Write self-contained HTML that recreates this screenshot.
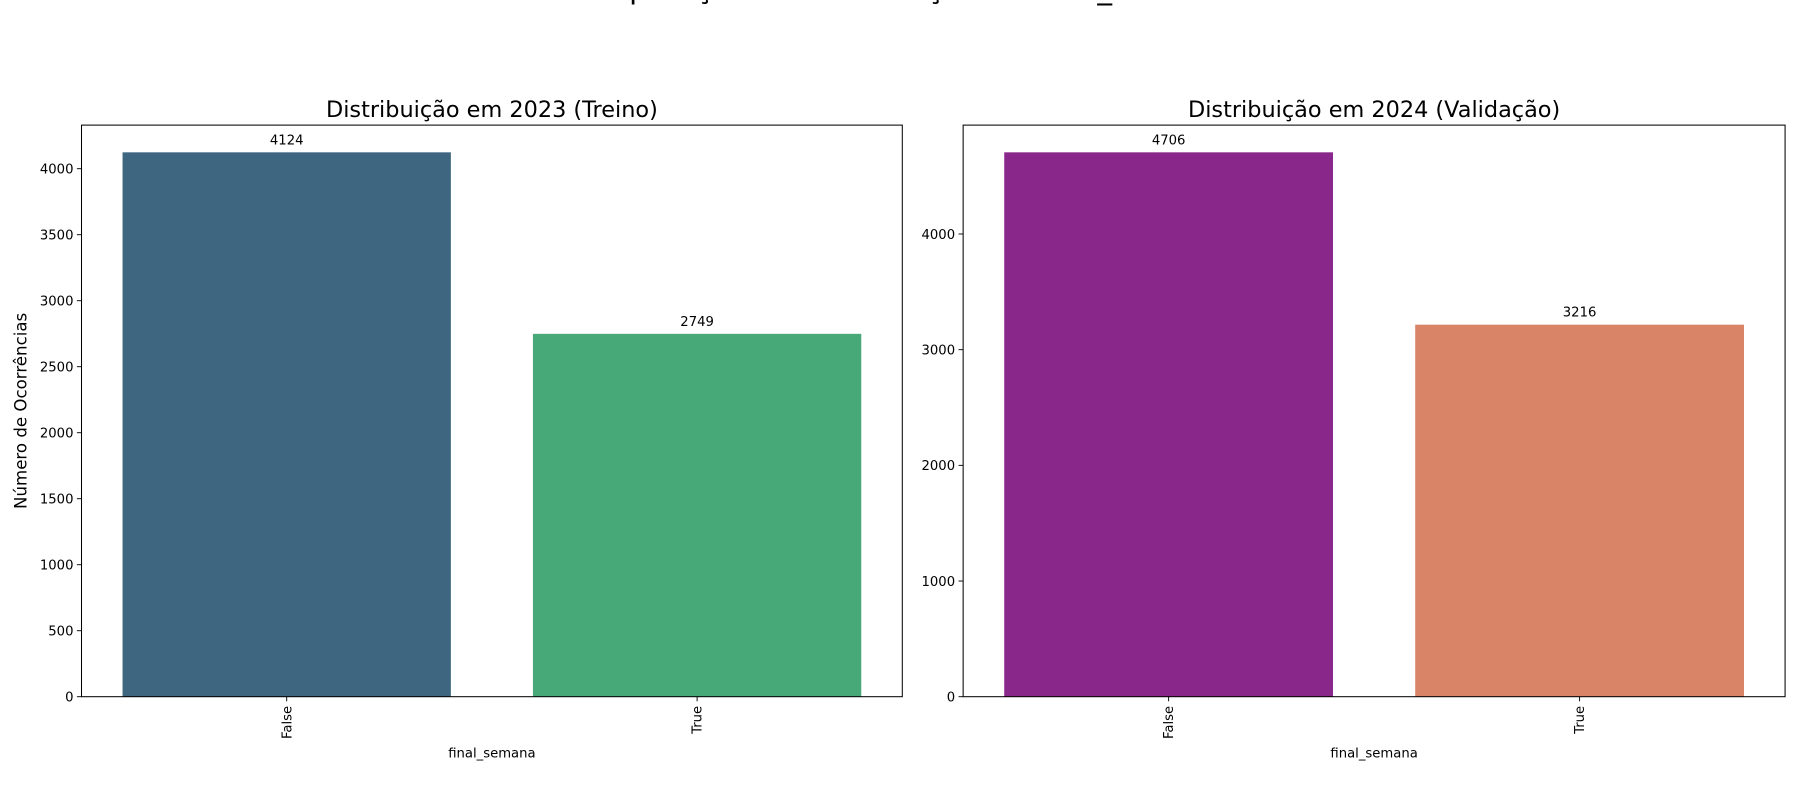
<!DOCTYPE html>
<html><head><meta charset="utf-8"><style>html,body{margin:0;padding:0;background:#fff;overflow:hidden}svg{display:block}text{font-family:"DejaVu Sans","Liberation Sans",sans-serif;fill:#000}</style></head>
<body>
<svg id="chart" width="1800" height="800" viewBox="0 0 1568 697" preserveAspectRatio="none" xmlns="http://www.w3.org/2000/svg">
<text x="780" y="-1.5" font-size="25.6" text-anchor="middle">Comparação da Distribuição de final_semana</text>
</svg>
<script>
const categories = ["False", "True"];
const values2023 = [4124, 2749];
const values2024 = [4706, 3216];
const ticks2023 = [0, 500, 1000, 1500, 2000, 2500, 3000, 3500, 4000];
const ticks2024 = [0, 1000, 2000, 3000, 4000];
const colors2023 = ["#3e6680", "#47a878"];
const colors2024 = ["#8a278a", "#d98367"];
const NS = "http://www.w3.org/2000/svg";
const svg = document.getElementById("chart");
function mk(tag, attrs, parent) {
  const e = document.createElementNS(NS, tag);
  for (const k in attrs) e.setAttribute(k, attrs[k]);
  (parent || svg).appendChild(e);
  return e;
}
function panel(name, x0, x1, y0, y1, values, colors, ticks, title, ylabel) {
  const g = mk("g", {});
  
  
  const ymax = Math.max(...values) * 1.05;
  const ys = v => y1 - v / ymax * (y1 - y0);
  const band = (x1 - x0) / categories.length;
  const xc = i => x0 + band * (i + 0.5);
  categories.forEach((c, i) => {
    const w = band * 0.8;
    const r = mk("rect", {x: xc(i) - w / 2, y: ys(values[i]), width: w, height: y1 - ys(values[i]), fill: colors[i]}, g);
    
    
    const t = mk("text", {x: xc(i), y: ys(values[i]) - 7, "font-size": 11.5, "text-anchor": "middle"}, g);
    t.textContent = values[i];
    
    
    mk("line", {x1: xc(i), x2: xc(i), y1: y1, y2: y1 + 4, stroke: "#000", "stroke-width": 0.8}, g);
    const tl = mk("text", {x: 0, y: 0, "font-size": 11.5, "text-anchor": "end", transform: `translate(${xc(i) + 4},${y1 + 8}) rotate(-90)`}, g);
    tl.textContent = c;
    
    
  });
  ticks.forEach(v => {
    mk("line", {x1: x0 - 4, x2: x0, y1: ys(v), y2: ys(v), stroke: "#000", "stroke-width": 0.8}, g);
    const t = mk("text", {x: x0 - 7, y: ys(v) + 4.2, "font-size": 11.5, "text-anchor": "end"}, g);
    t.textContent = v;
    
    
  });
  const fr = mk("rect", {x: x0, y: y0, width: x1 - x0, height: y1 - y0, fill: "none", stroke: "#000", "stroke-width": 0.9}, g);
  
  
  const tt = mk("text", {x: (x0 + x1) / 2, y: y0 - 7, "font-size": 19.5, "text-anchor": "middle"}, g);
  tt.textContent = title;
  
  
  const xl = mk("text", {x: (x0 + x1) / 2, y: y1 + 53, "font-size": 11.5, "text-anchor": "middle"}, g);
  xl.textContent = "final_semana";
  
  
  if (ylabel) {
    const yl = mk("text", {x: 0, y: 0, "font-size": 14.5, "text-anchor": "middle", transform: `translate(23,${(y0 + y1) / 2}) rotate(-90)`}, g);
    yl.textContent = ylabel;
    
    
  }
}
panel("panel-2023", 71, 786, 109, 607, values2023, colors2023, ticks2023, "Distribuição em 2023 (Treino)", "Número de Ocorrências");
panel("panel-2024", 839, 1555, 109, 607, values2024, colors2024, ticks2024, "Distribuição em 2024 (Validação)", null);
</script>
</body></html>
